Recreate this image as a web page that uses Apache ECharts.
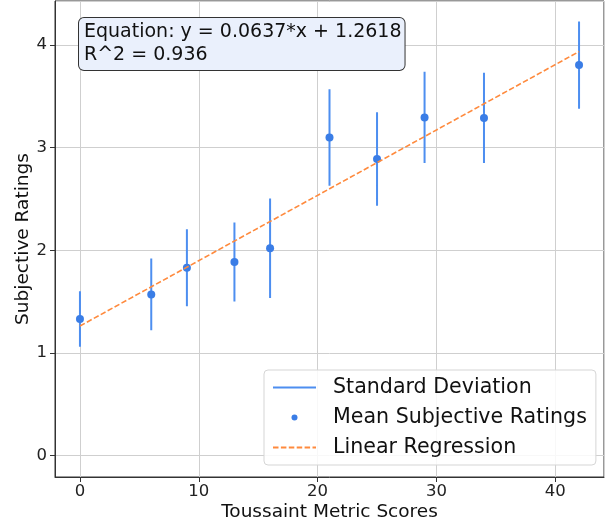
<!DOCTYPE html>
<html>
<head>
<meta charset="utf-8">
<script src="https://cdn.jsdelivr.net/npm/echarts@6/dist/echarts.min.js"></script>
<style>
	html, body { margin: 0; padding: 0; background: #fff; }
	#chart { width: 609px; height: 524px; }
</style>
</head>
<body>
<div id="chart"></div>
<script>
	// Toussaint metric scores (x) and subjective ratings
	var scores = [0, 6, 9, 13, 16, 21, 25, 29, 34, 42];
	var meanRatings = [1.33, 1.57, 1.83, 1.885, 2.02, 3.10, 2.89, 3.295, 3.29, 3.805];
	var stdRatings = [0.27, 0.35, 0.375, 0.385, 0.485, 0.47, 0.455, 0.445, 0.44, 0.425];
	// regression line end points (y = 0.0637*x + 1.2618)
	var regX = [0, 42];
	var regY = [1.2618, 3.9372];
	var eqText = 'Equation: y = 0.0637*x + 1.2618\nR^2 = 0.936';

	var font = 'DejaVu Sans';

	// error bars: vertical segments broken by empty points
	var errData = [];
	scores.forEach(function (x, i) {
		errData.push([x, meanRatings[i] - stdRatings[i]]);
		errData.push([x, meanRatings[i] + stdRatings[i]]);
		errData.push(['-', '-']);
	});
	var meanData = scores.map(function (x, i) { return [x, meanRatings[i]]; });
	var regData = regX.map(function (x, i) { return [x, regY[i]]; });

	var myChart = echarts.init(document.getElementById('chart'));
	myChart.setOption({
		animation: false,
		textStyle: { fontFamily: font },
		grid: {
			left: 55,
			right: 5,
			top: 1,
			bottom: 47,
			outerBoundsMode: 'none',
			containLabel: false,
			show: true,
			borderColor: '#333',
			borderWidth: 1
		},
		xAxis: {
			type: 'value',
			min: -2.1,
			max: 44.1,
			name: 'Toussaint Metric Scores',
			nameLocation: 'middle',
			nameGap: 26,
			nameMoveOverlap: false,
			nameTextStyle: { fontSize: 18.5, color: '#111', fontFamily: font },
			axisLine: { show: true, onZero: false, lineStyle: { color: '#333' } },
			axisTick: { show: true, length: 5, lineStyle: { color: '#333' } },
			axisLabel: { fontSize: 16.5, color: '#222', margin: 6, showMinLabel: false, showMaxLabel: false, fontFamily: font },
			splitLine: { show: true, lineStyle: { color: '#cfcfcf', width: 1 } }
		},
		yAxis: {
			type: 'value',
			min: -0.21,
			max: 4.43,
			name: 'Subjective Ratings',
			nameLocation: 'middle',
			nameGap: 22,
			nameMoveOverlap: false,
			nameTextStyle: { fontSize: 18.5, color: '#111', fontFamily: font },
			axisLine: { show: true, onZero: false, lineStyle: { color: '#333' } },
			axisTick: { show: true, length: 5, lineStyle: { color: '#333' } },
			axisLabel: { fontSize: 16.5, color: '#222', margin: 8, showMinLabel: false, showMaxLabel: false, fontFamily: font },
			splitLine: { show: true, lineStyle: { color: '#cfcfcf', width: 1 } }
		},
		legend: {
			orient: 'vertical',
			left: 264,
			top: 370,
			padding: [7, 9, 7, 8],
			itemGap: 9,
			itemWidth: 43,
			itemHeight: 6,
			backgroundColor: 'rgba(255,255,255,0.85)',
			borderColor: '#d5d5d5',
			borderWidth: 1,
			borderRadius: 4,
			textStyle: { fontSize: 20.6, color: '#111', fontFamily: font, lineHeight: 20, padding: [0, 0, 0, 12] },
			data: [
				{ name: 'Standard Deviation', itemStyle: { opacity: 0 } },
				{ name: 'Mean Subjective Ratings' },
				{ name: 'Linear Regression', itemStyle: { opacity: 0 } }
			]
		},
		graphic: [{
			type: 'text',
			left: 78,
			top: 17,
			z: 100,
			style: {
				text: eqText,
				font: '19px "DejaVu Sans"',
				lineHeight: 23,
				fill: '#111',
				backgroundColor: '#eaf0fc',
				borderColor: '#333',
				borderWidth: 1,
				borderRadius: 5,
				padding: [3, 3, 3, 5]
			}
		}],
		series: [{
			name: 'Standard Deviation',
			type: 'line',
			data: errData,
			symbol: 'none',
			connectNulls: false,
			lineStyle: { color: '#4d8ef0', width: 2 },
			itemStyle: { color: '#4d8ef0' },
			z: 3
		}, {
			name: 'Mean Subjective Ratings',
			type: 'scatter',
			data: meanData,
			symbolSize: 8,
			itemStyle: { color: '#3a7de6', opacity: 1 },
			z: 4
		}, {
			name: 'Linear Regression',
			type: 'line',
			data: regData,
			symbol: 'none',
			lineStyle: { color: '#ff8a3d', width: 1.6, type: [5.5, 2.4] },
			itemStyle: { color: '#ff8a3d' },
			z: 5
		}]
	});
</script>
</body>
</html>
